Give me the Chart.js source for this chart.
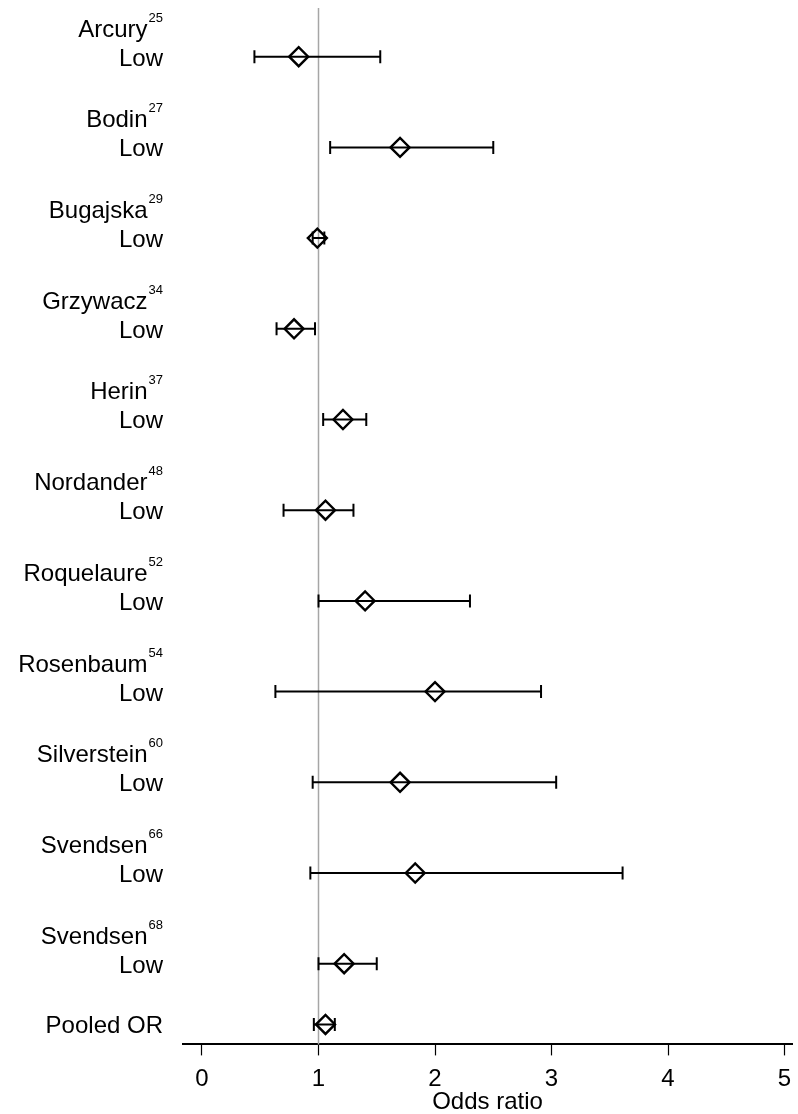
<!DOCTYPE html>
<html>
<head>
<meta charset="utf-8">
<style>
  html, body { margin: 0; padding: 0; background: #fff; }
  #wrap { width: 798px; height: 1114px; position: relative; }
</style>
<script src="https://cdn.jsdelivr.net/npm/chart.js@4/dist/chart.umd.min.js"></script>
</head>
<body>
<div id="wrap"><canvas id="forest"></canvas></div>
<script>
// Study-level odds ratios with 95% confidence limits
const studies   = ['Arcury', 'Bodin', 'Bugajska', 'Grzywacz', 'Herin', 'Nordander',
                   'Roquelaure', 'Rosenbaum', 'Silverstein', 'Svendsen', 'Svendsen'];
const refs      = ['25', '27', '29', '34', '37', '48', '52', '54', '60', '66', '68'];
const subgroup  = 'Low';
const oddsRatio = [0.83, 1.70, 0.99, 0.79, 1.21, 1.06, 1.40, 2.00, 1.70, 1.83, 1.22];
const ciLower   = [0.45, 1.10, 0.95, 0.64, 1.04, 0.70, 1.00, 0.63, 0.95, 0.93, 1.00];
const ciUpper   = [1.53, 2.50, 1.05, 0.97, 1.41, 1.30, 2.30, 2.91, 3.04, 3.61, 1.50];

// Pooled estimate
const pooledLabel = 'Pooled OR';
const pooledOR    = 1.06;
const pooledLower = 0.96;
const pooledUpper = 1.14;

// Axis
const xTicks    = [0, 1, 2, 3, 4, 5];
const xTitle    = 'Odds ratio';
const nullValue = 1;

const FONT = '"Liberation Sans", Arial, Helvetica, sans-serif';

// Row positions: one per study, pooled row sits a little closer
const pooledGap = 0.67;
const rowOf = i => i;
const pooledRow = studies.length - 1 + pooledGap;

// Point estimates (diamonds)
const estPoints = oddsRatio.map((v, i) => ({ x: v, y: rowOf(i) }));
estPoints.push({ x: pooledOR, y: pooledRow });

// Confidence intervals: segments separated by gaps
const ciPoints = [];
oddsRatio.forEach((v, i) => {
  ciPoints.push({ x: ciLower[i], y: rowOf(i) });
  ciPoints.push({ x: ciUpper[i], y: rowOf(i) });
  ciPoints.push({ x: null, y: null });
});
ciPoints.push({ x: pooledLower, y: pooledRow });
ciPoints.push({ x: pooledUpper, y: pooledRow });

// Vertical reference line at OR = 1
const nullLine = {
  id: 'nullLine',
  beforeDatasetsDraw(chart) {
    const { ctx, chartArea, scales } = chart;
    const px = scales.x.getPixelForValue(nullValue);
    ctx.save();
    ctx.strokeStyle = '#a6a6a6';
    ctx.lineWidth = 1.5;
    ctx.beginPath();
    ctx.moveTo(px, chartArea.top);
    ctx.lineTo(px, chartArea.bottom);
    ctx.stroke();
    ctx.restore();
  }
};

// Study names with superscript references, subgroup labels and pooled label
const rowLabels = {
  id: 'rowLabels',
  afterDraw(chart) {
    const { ctx, scales } = chart;
    const right = 163;
    ctx.save();
    ctx.fillStyle = '#000';
    ctx.textBaseline = 'alphabetic';
    ctx.textAlign = 'right';
    studies.forEach((name, i) => {
      const py = scales.y.getPixelForValue(rowOf(i));
      ctx.font = '13px ' + FONT;
      const supW = ctx.measureText(refs[i]).width;
      ctx.fillText(refs[i], right, py - 35);
      ctx.font = '24px ' + FONT;
      ctx.fillText(name, right - supW - 1, py - 20);
      ctx.fillText(subgroup, right, py + 9);
    });
    const pp = scales.y.getPixelForValue(pooledRow);
    ctx.font = '24px ' + FONT;
    ctx.fillText(pooledLabel, right, pp + 9);
    ctx.restore();
  }
};

new Chart(document.getElementById('forest'), {
  type: 'scatter',
  data: {
    datasets: [
      {
        label: 'CI',
        type: 'line',
        data: ciPoints,
        borderColor: '#000',
        borderWidth: 2,
        spanGaps: false,
        pointStyle: 'line',
        rotation: 90,
        pointRadius: 6.5,
        pointBorderWidth: 2,
        pointBorderColor: '#000',
        fill: false,
        order: 2
      },
      {
        label: 'OR',
        data: estPoints,
        pointStyle: 'rectRot',
        pointRadius: 9.5,
        pointBorderWidth: 2.4,
        borderColor: '#000',
        backgroundColor: 'rgba(0,0,0,0)',
        order: 1
      }
    ]
  },
  options: {
    responsive: true,
    maintainAspectRatio: false,
    animation: false,
    layout: { autoPadding: false, padding: { left: 183, right: 6, top: 8, bottom: 0 } },
    plugins: { legend: { display: false }, tooltip: { enabled: false } },
    scales: {
      x: {
        type: 'linear',
        position: 'bottom',
        min: -0.163,
        max: 5.064,
        afterBuildTicks: s => { s.ticks = xTicks.map(v => ({ value: v })); },
        afterFit: s => { s.paddingLeft = 0; s.paddingRight = 0; },
        grid: { drawOnChartArea: false, drawTicks: true, tickLength: 11, color: '#000', tickWidth: 1.2 },
        border: { display: true, color: '#000', width: 2 },
        ticks: { color: '#000', padding: 13, autoSkip: false, maxRotation: 0,
                 font: { family: FONT, size: 24, lineHeight: 0.9 } },
        title: { display: true, text: xTitle, color: '#000',
                 padding: { top: -13, bottom: 0 },
                 font: { family: FONT, size: 24, lineHeight: 1.0 } }
      },
      y: {
        type: 'linear',
        display: false,
        reverse: true,
        min: -0.537,
        max: 10.89
      }
    }
  },
  plugins: [nullLine, rowLabels]
});
</script>
</body>
</html>
